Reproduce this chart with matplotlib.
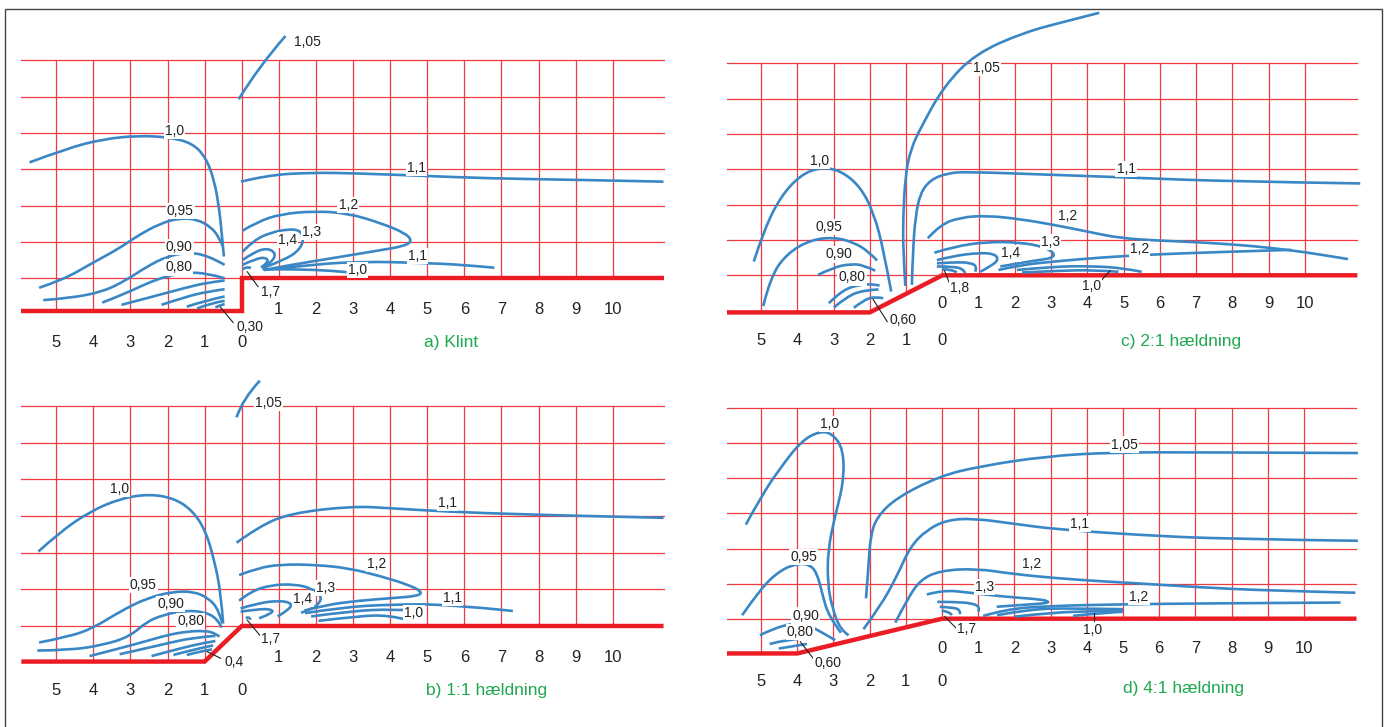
import numpy as np
import matplotlib.pyplot as plt
from matplotlib.path import Path
from matplotlib.patches import PathPatch, Rectangle

plt.rcParams['font.family'] = ['Liberation Sans', 'DejaVu Sans']

W, H = 1387, 727
RED = "#ec1c24"
GRID = "#ef3a42"
BLUE = "#3a87c6"
GREEN = "#1fa84f"

# ---------------- panel a) Klint ----------------
a_ground = [(-5.94, -0.9), (0, -0.9), (0, 0), (11.37, 0)]
a_105 = [(-0.08, 4.93), (0.46, 5.83), (1.18, 6.67)]
a_100 = [(-5.72, 3.19), (-4.70, 3.58), (-3.74, 3.83), (-2.78, 3.93), (-1.94, 3.88), (-1.34, 3.72),
         (-0.98, 3.35), (-0.74, 2.71), (-0.60, 1.88), (-0.54, 1.24), (-0.48, 0.60)]
a_095 = [(-5.46, -0.26), (-4.83, -0.05), (-4.01, 0.43), (-3.29, 0.83), (-2.84, 1.15), (-2.20, 1.51),
         (-1.66, 1.66), (-1.20, 1.62), (-0.84, 1.42), (-0.62, 1.15), (-0.50, 0.87)]
a_090 = [(-5.35, -0.60), (-4.65, -0.55), (-3.74, -0.37), (-3.11, -0.05), (-2.56, 0.32), (-2.02, 0.60),
         (-1.48, 0.71), (-0.93, 0.64), (-0.46, 0.37)]
a_080 = [(-3.76, -0.67), (-3.11, -0.41), (-2.56, -0.14), (-2.02, 0.06), (-1.48, 0.16), (-0.93, 0.14), (-0.46, 0.0)]
a_070 = [(-3.24, -0.73), (-2.38, -0.50), (-1.48, -0.25), (-0.93, -0.12), (-0.46, -0.06)]
a_060 = [(-2.16, -0.73), (-1.48, -0.50), (-0.93, -0.37), (-0.46, -0.30)]
a_050 = [(-1.48, -0.78), (-0.93, -0.60), (-0.46, -0.50)]
a_040 = [(-1.20, -0.83), (-0.80, -0.67), (-0.46, -0.62)]
a_030 = [(-0.71, -0.80), (-0.57, -0.74), (-0.46, -0.71)]
a_110 = [(-0.02, 2.66), (0.70, 2.84), (1.89, 2.91), (3.09, 2.89), (4.89, 2.82), (6.69, 2.75), (9.09, 2.71), (11.37, 2.66)]
a_120 = [(0.02, 1.31), (0.43, 1.56), (1.06, 1.77), (1.97, 1.85), (2.87, 1.79), (3.78, 1.51), (4.41, 1.24),
         (4.59, 1.04), (4.41, 0.89), (3.60, 0.75), (2.42, 0.55), (1.33, 0.37), (0.61, 0.23)]
a_130 = [(0.02, 0.73), (0.34, 1.06), (0.79, 1.26), (1.24, 1.35), (1.56, 1.33), (1.68, 1.10), (1.56, 0.78),
         (1.15, 0.50), (0.61, 0.30)]
a_140 = [(0.02, 0.50), (0.34, 0.73), (0.70, 0.83), (0.92, 0.69), (0.83, 0.46), (0.56, 0.28)]
a_150 = [(0.02, 0.37), (0.40, 0.55), (0.67, 0.57), (0.72, 0.43), (0.52, 0.30)]
a_170 = [(0.02, 0.25), (0.15, 0.33), (0.25, 0.28)]
a_111 = [(0.61, 0.23), (1.97, 0.39), (3.32, 0.46), (4.68, 0.43), (6.04, 0.37), (6.81, 0.29)]
a_101 = [(0.56, 0.25), (1.51, 0.25), (2.42, 0.21), (2.83, 0.17)]
a_labels = [("1,05", 1.77, 6.51), ("1,0", -1.82, 4.06), ("1,1", 4.71, 3.03), ("1,2", 2.87, 2.02),
            ("1,3", 1.88, 1.28), ("1,4", 1.24, 1.06), ("1,1", 4.73, 0.62), ("1,0", 3.13, 0.23),
            ("0,95", -1.66, 1.86), ("0,90", -1.68, 0.87), ("0,80", -1.70, 0.30),
            ("1,7", 0.77, -0.37), ("0,30", 0.23, -1.33)]
a_leaders = [[(0.15, 0.18), (0.44, -0.23)], [(-0.57, -0.80), (-0.23, -1.22)]]

# ---------------- panel b) 1:1 ----------------
b_ground = [(-5.94, -0.97), (-1, -0.97), (0, 0), (11.37, 0)]
b_105 = [(-0.14, 5.69), (0.04, 6.21), (0.49, 6.69)]
b_100 = [(-5.48, 2.03), (-4.94, 2.53), (-4.10, 3.12), (-3.26, 3.48), (-2.48, 3.60), (-1.82, 3.48),
         (-1.34, 3.16), (-0.98, 2.62), (-0.74, 1.80), (-0.56, 0.89), (-0.50, 0.07)]
b_095 = [(-5.46, -0.45), (-4.65, -0.29), (-4.01, -0.06), (-3.29, 0.39), (-2.56, 0.76), (-1.84, 0.94),
         (-1.30, 0.94), (-0.89, 0.76), (-0.62, 0.44), (-0.52, 0.07)]
b_090 = [(-5.51, -0.67), (-4.65, -0.66), (-3.74, -0.52), (-3.02, -0.29), (-2.56, 0.12), (-2.11, 0.30),
         (-1.57, 0.42), (-1.02, 0.39), (-0.66, 0.21), (-0.54, -0.04)]
b_080 = [(-4.10, -0.82), (-3.29, -0.61), (-2.56, -0.41), (-2.02, -0.25), (-1.48, -0.15), (-0.98, -0.13),
         (-0.71, -0.20), (-0.60, -0.29)]
b_070 = [(-3.29, -0.77), (-2.20, -0.52), (-1.30, -0.31), (-0.71, -0.27)]
b_060 = [(-2.43, -0.82), (-1.66, -0.61), (-1.02, -0.46), (-0.71, -0.41)]
b_050 = [(-1.84, -0.79), (-1.30, -0.64), (-0.77, -0.53)]
b_040 = [(-1.48, -0.79), (-1.07, -0.68), (-0.80, -0.64)]
b_110 = [(-0.14, 2.27), (0.46, 2.71), (1.29, 3.07), (2.97, 3.27), (4.05, 3.21), (5.49, 3.12), (7.89, 3.03), (11.37, 2.95)]
b_120 = [(-0.07, 1.39), (0.43, 1.58), (1.06, 1.68), (1.97, 1.67), (2.87, 1.58), (3.78, 1.35), (4.50, 1.12),
         (4.86, 0.94), (4.77, 0.82), (4.05, 0.76), (3.14, 0.69), (2.24, 0.57), (1.69, 0.42)]
b_130 = [(-0.07, 0.69), (0.24, 0.94), (0.79, 1.12), (1.42, 1.14), (1.88, 1.03), (2.15, 0.82), (2.10, 0.62),
         (1.88, 0.46), (1.60, 0.36)]
b_140 = [(-0.03, 0.48), (0.43, 0.62), (0.97, 0.69), (1.33, 0.64), (1.33, 0.48), (0.97, 0.26)]
b_150 = [(-0.03, 0.39), (0.43, 0.46), (0.79, 0.46), (0.86, 0.36), (0.47, 0.21)]
b_170 = [(0.11, 0.21), (0.20, 0.27), (0.24, 0.17)]
b_111 = [(1.71, 0.35), (2.69, 0.51), (4.05, 0.59), (5.59, 0.59), (7.31, 0.41)]
b_105b = [(1.87, 0.26), (2.96, 0.41), (4.05, 0.46), (4.77, 0.42)]
b_101 = [(2.07, 0.14), (3.14, 0.27), (3.96, 0.30), (4.50, 0.16)]
b_labels = [("1,05", 0.72, 6.09), ("1,0", -3.29, 3.73), ("1,1", 5.55, 3.36), ("1,2", 3.64, 1.69),
            ("1,3", 2.26, 1.03), ("1,4", 1.65, 0.73), ("1,1", 5.68, 0.76), ("1,0", 4.64, 0.35),
            ("0,95", -2.65, 1.12), ("0,90", -1.91, 0.60), ("0,80", -1.37, 0.14),
            ("1,7", 0.79, -0.36), ("0,4", -0.21, -0.97)]
b_leaders = [[(0.15, 0.16), (0.56, -0.34)], [(-0.93, -0.70), (-0.57, -0.88)]]

# ---------------- panel c) 2:1 ----------------
c_ground = [(-5.94, -1.05), (-2, -1.05), (0, 0), (11.45, 0)]
c_105 = [(-1.02, -0.30), (-1.08, 0.72), (-1.08, 1.66), (-1.02, 2.80), (-0.88, 3.55), (-0.57, 4.23),
         (0.05, 5.36), (0.91, 6.27), (2.26, 6.88), (3.49, 7.21), (4.33, 7.43)]
c_110 = [(-0.84, -0.27), (-0.81, 0.72), (-0.74, 1.66), (-0.61, 2.32), (-0.33, 2.70), (0.13, 2.89),
         (0.68, 2.93), (2.88, 2.85), (5.34, 2.76), (7.80, 2.66), (11.53, 2.60)]
c_100 = [(-5.20, 0.39), (-4.92, 1.28), (-4.46, 2.23), (-3.91, 2.84), (-3.36, 3.06), (-2.81, 2.97),
         (-2.26, 2.51), (-1.89, 1.76), (-1.62, 0.72), (-1.41, -0.46)]
c_095 = [(-4.94, -0.87), (-4.74, -0.04), (-4.28, 0.62), (-3.64, 1.0), (-2.99, 1.08), (-2.44, 0.93),
         (-2.03, 0.67), (-1.80, 0.42)]
c_090 = [(-3.43, 0.01), (-2.99, 0.23), (-2.53, 0.32), (-2.17, 0.29), (-1.85, 0.13)]
c_080 = [(-3.13, -0.79), (-2.81, -0.46), (-2.35, -0.27), (-1.89, -0.25), (-1.73, -0.29)]
c_070 = [(-2.99, -0.91), (-2.63, -0.60), (-2.17, -0.42), (-1.76, -0.40)]
c_060 = [(-2.44, -0.92), (-2.17, -0.70), (-1.85, -0.60), (-1.63, -0.65)]
c_120 = [(-0.40, 1.05), (-0.06, 1.43), (0.50, 1.64), (1.23, 1.69), (2.15, 1.59), (3.07, 1.43), (3.99, 1.24),
         (4.90, 1.05), (6.01, 0.98), (7.20, 0.93), (8.58, 0.83), (9.68, 0.70), (10.41, 0.59), (11.19, 0.46)]
c_121 = [(1.55, 0.15), (2.15, 0.29), (3.07, 0.39), (4.44, 0.51), (5.82, 0.59), (7.66, 0.66), (9.63, 0.72)]
c_130 = [(-0.22, 0.64), (0.31, 0.81), (1.23, 0.95), (2.15, 0.93), (2.79, 0.81), (3.11, 0.62), (3.02, 0.48),
         (2.61, 0.43), (1.60, 0.25)]
c_140 = [(-0.15, 0.43), (0.31, 0.55), (1.05, 0.64), (1.46, 0.60), (1.55, 0.43), (1.32, 0.25), (1.05, 0.10)]
c_150 = [(-0.15, 0.34), (0.31, 0.37), (0.77, 0.36), (0.96, 0.25), (0.91, 0.10)]
c_160 = [(-0.15, 0.25), (0.31, 0.25), (0.59, 0.17), (0.63, 0.06)]
c_180 = [(-0.01, 0.17), (0.27, 0.17), (0.40, 0.08)]
c_110b = [(2.06, 0.15), (3.07, 0.25), (4.17, 0.26), (5.0, 0.20), (5.50, 0.10)]
c_101 = [(2.20, 0.08), (3.25, 0.13), (4.17, 0.15), (4.86, 0.10)]
c_labels = [("1,05", 1.22, 5.86), ("1,0", -3.38, 3.24), ("1,1", 5.07, 3.01), ("1,2", 3.45, 1.68),
            ("1,3", 2.99, 0.95), ("1,4", 1.89, 0.62), ("1,2", 5.44, 0.74), ("1,0", 4.12, -0.30),
            ("0,95", -3.13, 1.36), ("0,90", -2.86, 0.59), ("0,80", -2.49, -0.06),
            ("1,8", 0.48, -0.37), ("0,60", -1.08, -1.27)]
c_leaders = [[(0.06, 0.13), (0.22, -0.28)], [(-1.91, -0.68), (-1.52, -1.31)], [(4.40, -0.13), (4.63, 0.13)]]

# ---------------- panel d) 4:1 ----------------
d_ground = [(-5.94, -0.99), (-4, -0.99), (0, 0), (11.45, 0)]
d_100 = [(-5.42, 2.68), (-4.99, 3.49), (-4.50, 4.25), (-3.89, 5.06), (-3.39, 5.34), (-3.03, 5.28),
         (-2.72, 4.82), (-2.72, 3.87), (-2.96, 2.91), (-3.15, 1.96), (-3.16, 1.01), (-3.04, 0.34),
         (-2.81, -0.32), (-2.58, -0.47)]
d_095 = [(-5.52, 0.10), (-5.01, 0.86), (-4.46, 1.39), (-3.96, 1.58), (-3.64, 1.53), (-3.45, 1.29),
         (-3.31, 0.72), (-3.13, 0.06), (-2.79, -0.40)]
d_090 = [(-5.03, -0.47), (-4.65, -0.28), (-4.19, -0.15), (-3.82, -0.13), (-3.50, -0.28), (-2.95, -0.61)]
d_080 = [(-4.76, -0.72), (-4.28, -0.59), (-3.68, -0.54)]
d_070 = [(-4.51, -0.85), (-4.10, -0.78), (-3.73, -0.72)]
d_105 = [(-2.10, 0.58), (-2.03, 1.48), (-1.98, 2.34), (-1.80, 2.90), (-1.25, 3.45), (-0.07, 4.06),
         (1.03, 4.34), (2.88, 4.63), (4.72, 4.74), (7.18, 4.74), (11.49, 4.72)]
d_110 = [(-2.17, -0.30), (-1.71, 0.34), (-1.25, 1.20), (-0.88, 2.05), (-0.42, 2.53), (0.13, 2.81),
         (0.86, 2.86), (2.02, 2.70), (3.12, 2.55), (5.34, 2.39), (7.80, 2.27), (11.49, 2.22)]
d_120 = [(-1.29, -0.11), (-0.97, 0.53), (-0.61, 1.10), (-0.06, 1.37), (0.95, 1.43), (1.97, 1.27),
         (3.53, 1.12), (5.36, 1.01), (7.20, 0.89), (9.04, 0.80), (11.42, 0.74)]
d_130 = [(-0.42, 0.69), (0.04, 0.82), (0.77, 0.74), (1.69, 0.63), (2.61, 0.56), (2.93, 0.51), (2.93, 0.44),
         (2.15, 0.39), (1.51, 0.34)]
d_121 = [(1.14, 0.08), (1.78, 0.27), (2.88, 0.36), (4.90, 0.41), (7.66, 0.44), (11.01, 0.46)]
d_115 = [(1.52, 0.10), (2.42, 0.27), (3.53, 0.30), (5.00, 0.27)]
d_110b = [(2.01, 0.06), (3.07, 0.18), (4.17, 0.21), (5.00, 0.23)]
d_101 = [(3.62, 0.08), (4.26, 0.15), (5.00, 0.20)]
d_140 = [(-0.13, 0.48), (0.31, 0.48), (0.86, 0.44), (1.05, 0.32), (1.00, 0.20)]
d_150 = [(-0.06, 0.34), (0.31, 0.32), (0.50, 0.25), (0.50, 0.13)]
d_170 = [(-0.01, 0.23), (0.22, 0.20), (0.27, 0.10)]
d_labels = [("1,0", -3.11, 5.55), ("1,05", 5.03, 4.96), ("1,1", 3.81, 2.70), ("1,2", 2.48, 1.56),
            ("1,3", 1.18, 0.91), ("1,2", 5.44, 0.63), ("1,0", 4.15, -0.32), ("0,95", -3.82, 1.75),
            ("0,90", -3.77, 0.09), ("0,80", -3.91, -0.37), ("1,7", 0.68, -0.30), ("0,60", -3.16, -1.25)]
d_leaders = [[(0.08, 0.06), (0.42, -0.30)], [(-3.91, -0.66), (-3.56, -1.13)], [(4.19, -0.18), (4.19, 0.15)]]

titles = ["a) Klint", "b) 1:1 hældning", "c) 2:1 hældning", "d) 4:1 hældning"]


fig = plt.figure(figsize=(W / 100, H / 100), dpi=100)
fig.patch.set_facecolor("white")


def make_axes(x0, y0, ux, uy):
    xl, yl = (-6.6, 12.2), (-2.5, 7.8)
    left = x0 + xl[0] * ux
    top = y0 - yl[1] * uy
    bot = y0 - yl[0] * uy
    ax = fig.add_axes([left / W, 1 - bot / H, (xl[1] - xl[0]) * ux / W, (bot - top) / H])
    ax.set_xlim(xl)
    ax.set_ylim(yl)
    ax.axis("off")
    return ax


def curve(ax, pts):
    p = np.asarray(pts, float)
    verts, codes = [p[0]], [Path.MOVETO]
    if len(p) == 2:
        verts.append(p[1]); codes.append(Path.LINETO)
    for i in range(1, len(p) - 1):
        end = p[-1] if i == len(p) - 2 else (p[i] + p[i + 1]) / 2
        verts += [p[i], end]
        codes += [Path.CURVE3, Path.CURVE3]
    ax.add_patch(PathPatch(Path(verts, codes), fill=False, edgecolor=BLUE, lw=1.9,
                           capstyle="butt", zorder=3, clip_on=False))


def draw_panel(ax, ground, curves, labels, leaders, title, first_tick, title_y, low_y, up_y):
    gx, gy = zip(*ground)
    xr = gx[-1]
    for y in range(1, 7):
        ax.plot([gx[0], xr], [y, y], color=GRID, lw=0.9, zorder=1, clip_on=False)
    ax.plot([gx[0], 0], [0, 0], color=GRID, lw=0.9, zorder=1, clip_on=False)
    for x in range(-5, 11):
        y_start = 0 if x >= 0 else float(np.interp(x, gx[:3], gy[:3]))
        ax.plot([x, x], [y_start, 6], color=GRID, lw=0.9, zorder=1, clip_on=False)
    ax.plot(gx, gy, color=RED, lw=3.2, solid_joinstyle="miter", solid_capstyle="butt", zorder=2, clip_on=False)
    for c in curves:
        curve(ax, c)
    for s, x, y in labels:
        ax.text(x, y, s, fontsize=10, ha="center", va="center", color="#222222", zorder=5,
                bbox=dict(facecolor="white", edgecolor="none", pad=0.8))
    for (x1, y1), (x2, y2) in leaders:
        ax.plot([x1, x2], [y1, y2], color="#222222", lw=0.8, zorder=4)
    for i in range(first_tick, 11):
        ax.text(i, up_y, str(i), fontsize=12, ha="center", va="center", color="#222222")
    for i in range(6):
        ax.text(-i, low_y, str(i), fontsize=12, ha="center", va="center", color="#222222")
    ax.text(title[1], title_y, title[0], fontsize=12.5, ha="center", va="center", color=GREEN)


ax_a = make_axes(241.7, 278.3, 37.1, 36.33)
draw_panel(ax_a, a_ground,
           [a_105, a_100, a_095, a_090, a_080, a_070, a_060, a_050, a_040, a_030,
            a_110, a_120, a_130, a_140, a_150, a_170, a_111, a_101],
           a_labels, a_leaders, (titles[0], 5.65), 1, -1.76, -1.76, -0.85)

ax_b = make_axes(241.7, 626.0, 37.1, 36.67)
draw_panel(ax_b, b_ground,
           [b_105, b_100, b_095, b_090, b_080, b_070, b_060, b_050, b_040,
            b_110, b_120, b_130, b_140, b_150, b_170, b_111, b_105b, b_101],
           b_labels, b_leaders, (titles[1], 6.6), 1, -1.76, -1.76, -0.85)

ax_c = make_axes(942.3, 275.3, 36.25, 35.33)
draw_panel(ax_c, c_ground,
           [c_105, c_110, c_100, c_095, c_090, c_080, c_070, c_060,
            c_120, c_121, c_130, c_140, c_150, c_160, c_180, c_110b, c_101],
           c_labels, c_leaders, (titles[2], 6.58), 0, -1.88, -1.84, -0.80)

ax_d = make_axes(942.0, 618.7, 36.2, 35.1)
draw_panel(ax_d, d_ground,
           [d_100, d_095, d_090, d_080, d_070, d_105, d_110, d_120, d_130,
            d_121, d_115, d_110b, d_101, d_140, d_150, d_170],
           d_labels, d_leaders, (titles[3], 6.67), 0, -2.0, -1.78, -0.85)

# outer frame (bottom edge runs off the picture)
fig.patches.append(Rectangle((5 / W, -10 / H), 1377 / W, 728 / H, transform=fig.transFigure,
                             fill=False, edgecolor="#444444", lw=1.0))

fig.savefig("out.png", dpi=100)
